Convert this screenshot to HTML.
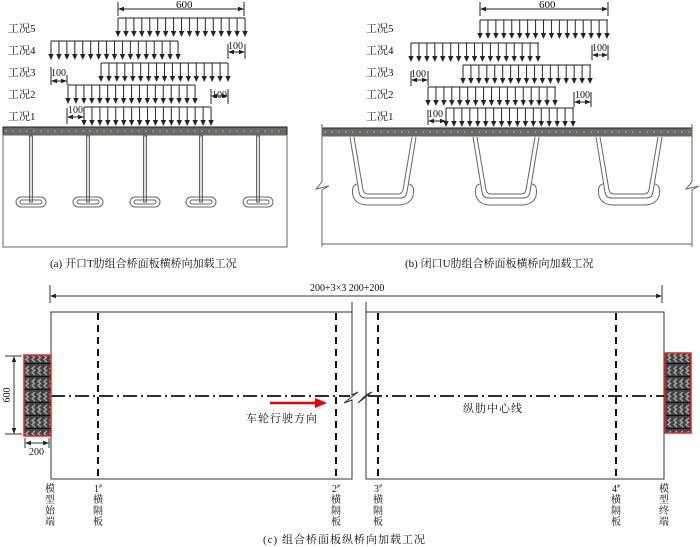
<!DOCTYPE html>
<html><head><meta charset="utf-8"><style>
html,body{margin:0;padding:0;background:#fff;}
svg{display:block;}
text{font-family:"Liberation Serif","Noto Serif CJK SC",serif;fill:#111;}
</style></head><body>
<svg width="700" height="547" viewBox="0 0 700 547" xmlns="http://www.w3.org/2000/svg">
<defs>
<pattern id="arr" patternUnits="userSpaceOnUse" x="-4" y="0" width="7.94" height="19">
<line x1="4" y1="0" x2="4" y2="14" stroke="#222" stroke-width="1"/>
<polygon points="1.3,13 6.7,13 4,19" fill="#222"/>
</pattern>
<pattern id="tire" patternUnits="userSpaceOnUse" x="0" y="0" width="6" height="13">
<rect width="6" height="13" fill="#444"/>
<path d="M5 2 L2 4.5 L5 7 M5 6 L2 8.5 L5 11" stroke="#aaa" stroke-width="1.3" fill="none"/>
<line x1="0" y1="12.5" x2="6" y2="12.5" stroke="#111" stroke-width="1.2"/>
</pattern>
<marker id="ah" markerWidth="6" markerHeight="6" refX="5" refY="3" orient="auto-start-reverse" markerUnits="userSpaceOnUse"><polygon points="0,0.8 6,3 0,5.2" fill="#222"/></marker>
<marker id="rh" markerWidth="12" markerHeight="10" refX="10" refY="5" orient="auto" markerUnits="userSpaceOnUse"><polygon points="0,0 12,5 0,10" fill="#e00"/></marker>
</defs>

<!-- ===== Panel (a) ===== -->
<g font-size="11">
<text x="8" y="32">工况5</text>
<text x="8" y="54">工况4</text>
<text x="8" y="76">工况3</text>
<text x="8" y="98">工况2</text>
<text x="8" y="120">工况1</text>
</g>
<g stroke="#222" stroke-width="1">
<line x1="118" y1="2" x2="118" y2="16"/><line x1="244" y1="2" x2="244" y2="16"/>
<line x1="119" y1="9" x2="243" y2="9" marker-start="url(#ah)" marker-end="url(#ah)"/>
</g>
<text x="176" y="8" font-size="11">600</text>
<g transform="translate(118,18)"><line x1="0" y1="0" x2="127" y2="0" stroke="#222"/><rect x="-4" y="0" width="135" height="19" fill="url(#arr)"/></g>
<g transform="translate(51,41)"><line x1="0" y1="0" x2="127" y2="0" stroke="#222"/><rect x="-4" y="0" width="135" height="19" fill="url(#arr)"/></g>
<g transform="translate(101,63)"><line x1="0" y1="0" x2="127" y2="0" stroke="#222"/><rect x="-4" y="0" width="135" height="19" fill="url(#arr)"/></g>
<g transform="translate(68,85)"><line x1="0" y1="0" x2="127" y2="0" stroke="#222"/><rect x="-4" y="0" width="135" height="19" fill="url(#arr)"/></g>
<g transform="translate(84,107)"><line x1="0" y1="0" x2="127" y2="0" stroke="#222"/><rect x="-4" y="0" width="135" height="19" fill="url(#arr)"/></g>
<g stroke="#222" stroke-width="1">
<line x1="228" y1="44" x2="228" y2="59"/><line x1="245" y1="44" x2="245" y2="59"/><line x1="229" y1="52" x2="244" y2="52" marker-start="url(#ah)" marker-end="url(#ah)"/>
<line x1="51" y1="67" x2="51" y2="85"/><line x1="67" y1="75" x2="67" y2="85"/><line x1="52" y1="81" x2="66" y2="81" marker-start="url(#ah)" marker-end="url(#ah)"/>
<line x1="211" y1="89" x2="211" y2="104"/><line x1="228" y1="89" x2="228" y2="104"/><line x1="212" y1="96" x2="227" y2="96" marker-start="url(#ah)" marker-end="url(#ah)"/>
<line x1="67" y1="108" x2="67" y2="124"/><line x1="84" y1="108" x2="84" y2="124"/><line x1="68" y1="117" x2="83" y2="117" marker-start="url(#ah)" marker-end="url(#ah)"/>
</g>
<g font-size="10"><text x="228" y="49">100</text><text x="51" y="76">100</text><text x="212" y="98">100</text><text x="68" y="113">100</text></g>
<rect x="3" y="127" width="284" height="8" fill="#6a6a6a" stroke="#222" stroke-width="1"/>
<line x1="5" y1="131" x2="285" y2="131" stroke="#7cc84a" stroke-width="1.2" stroke-dasharray="2 5"/>
<rect x="3" y="135" width="284" height="112" fill="none" stroke="#666" stroke-width="1"/>
<g stroke="#666" fill="none" stroke-width="1">
<g transform="translate(31,0)"><rect x="-1.5" y="136" width="3" height="66" fill="#ddd"/><rect x="-15" y="197" width="30" height="10" rx="5"/><rect x="-11" y="200" width="22" height="4" rx="2"/></g>
<g transform="translate(88,0)"><rect x="-1.5" y="136" width="3" height="66" fill="#ddd"/><rect x="-15" y="197" width="30" height="10" rx="5"/><rect x="-11" y="200" width="22" height="4" rx="2"/></g>
<g transform="translate(145,0)"><rect x="-1.5" y="136" width="3" height="66" fill="#ddd"/><rect x="-15" y="197" width="30" height="10" rx="5"/><rect x="-11" y="200" width="22" height="4" rx="2"/></g>
<g transform="translate(201,0)"><rect x="-1.5" y="136" width="3" height="66" fill="#ddd"/><rect x="-15" y="197" width="30" height="10" rx="5"/><rect x="-11" y="200" width="22" height="4" rx="2"/></g>
<g transform="translate(258,0)"><rect x="-1.5" y="136" width="3" height="66" fill="#ddd"/><rect x="-15" y="197" width="30" height="10" rx="5"/><rect x="-11" y="200" width="22" height="4" rx="2"/></g>
</g>
<text x="50" y="267" font-size="11">(a)  开口T肋组合桥面板横桥向加载工况</text>

<!-- ===== Panel (b) ===== -->
<g font-size="11">
<text x="366" y="32">工况5</text>
<text x="366" y="54">工况4</text>
<text x="366" y="76">工况3</text>
<text x="366" y="98">工况2</text>
<text x="366" y="120">工况1</text>
</g>
<g stroke="#222" stroke-width="1">
<line x1="480" y1="2" x2="480" y2="16"/><line x1="608" y1="2" x2="608" y2="16"/>
<line x1="481" y1="9" x2="607" y2="9" marker-start="url(#ah)" marker-end="url(#ah)"/>
</g>
<text x="539" y="8" font-size="11">600</text>
<g transform="translate(480,20)"><line x1="0" y1="0" x2="128" y2="0" stroke="#222"/><rect x="-4" y="0" width="136" height="19" fill="url(#arr)"/></g>
<g transform="translate(411,43)"><line x1="0" y1="0" x2="128" y2="0" stroke="#222"/><rect x="-4" y="0" width="136" height="19" fill="url(#arr)"/></g>
<g transform="translate(463,65)"><line x1="0" y1="0" x2="128" y2="0" stroke="#222"/><rect x="-4" y="0" width="136" height="19" fill="url(#arr)"/></g>
<g transform="translate(428,87)"><line x1="0" y1="0" x2="128" y2="0" stroke="#222"/><rect x="-4" y="0" width="136" height="19" fill="url(#arr)"/></g>
<g transform="translate(446,108)"><line x1="0" y1="0" x2="128" y2="0" stroke="#222"/><rect x="-4" y="0" width="136" height="19" fill="url(#arr)"/></g>
<g stroke="#222" stroke-width="1">
<line x1="592" y1="45" x2="592" y2="60"/><line x1="608" y1="45" x2="608" y2="60"/><line x1="593" y1="55" x2="607" y2="55" marker-start="url(#ah)" marker-end="url(#ah)"/>
<line x1="411" y1="71" x2="411" y2="86"/><line x1="428" y1="71" x2="428" y2="86"/><line x1="412" y1="80" x2="427" y2="80" marker-start="url(#ah)" marker-end="url(#ah)"/>
<line x1="574" y1="92" x2="574" y2="107"/><line x1="591" y1="92" x2="591" y2="107"/><line x1="575" y1="102" x2="590" y2="102" marker-start="url(#ah)" marker-end="url(#ah)"/>
<line x1="428" y1="110" x2="428" y2="125"/><line x1="446" y1="110" x2="446" y2="125"/><line x1="429" y1="121" x2="445" y2="121" marker-start="url(#ah)" marker-end="url(#ah)"/>
</g>
<g font-size="10"><text x="592" y="51">100</text><text x="411" y="77">100</text><text x="575" y="98">100</text><text x="428" y="117">100</text></g>
<rect x="322" y="128" width="370" height="8" fill="#6a6a6a" stroke="#222" stroke-width="1"/>
<line x1="324" y1="132" x2="690" y2="132" stroke="#7cc84a" stroke-width="1.2" stroke-dasharray="2 5"/>
<line x1="322" y1="136" x2="692" y2="136" stroke="#666"/>
<g stroke="#666" fill="none" stroke-width="1">
<path d="M322 124 V182 L316 189 L329 186 L322 190 V247"/>
<path d="M692 124 V182 L686 189 L699 186 L692 190 V247"/>
<line x1="322" y1="244" x2="692" y2="244"/>
<g id="u1">
<path d="M350 137 L359 192 Q360 198 366 198 H400 Q406 198 407 192 L416 137"/>
<path d="M354 137 L363 190 Q364 194 368 194 H398 Q402 194 403 190 L412 137"/>
<path d="M357 184 Q351 185 353 196 Q356 205 368 205 H398 Q410 205 413 196 Q415 185 409 184"/>
</g>
<use href="#u1" transform="translate(123,0)"/>
<use href="#u1" transform="translate(246,0)"/>
</g>
<text x="405" y="267" font-size="11">(b)  闭口U肋组合桥面板横桥向加载工况</text>

<!-- ===== Panel (c) ===== -->
<g stroke="#333" stroke-width="1" fill="none">
<line x1="50" y1="285" x2="50" y2="303"/><line x1="662" y1="285" x2="662" y2="303"/>
<line x1="51" y1="296" x2="661" y2="296" marker-start="url(#ah)" marker-end="url(#ah)"/>
<path d="M352 302 V312 H51 V479 H352 V400 L344 403 L358 392 L352 395 V302" fill="#fff"/>
<path d="M366 302 V395 L358 403 L372 392 L366 395 V312 H664 V479 H366 V395"/>
</g>
<text x="310" y="291" font-size="10" font-family="Liberation Sans, sans-serif">200+3×3 200+200</text>
<g stroke="#111" stroke-width="2" stroke-dasharray="7 5">
<line x1="98" y1="313" x2="98" y2="478"/>
<line x1="336" y1="313" x2="336" y2="478"/>
<line x1="378" y1="313" x2="378" y2="478"/>
<line x1="616" y1="313" x2="616" y2="478"/>
</g>
<g stroke="#111" stroke-width="1.8" stroke-dasharray="14 4 2 4">
<line x1="51" y1="396" x2="350" y2="396"/>
<line x1="368" y1="396" x2="664" y2="396"/>
</g>
<line x1="270" y1="403" x2="325" y2="403" stroke="#e00" stroke-width="2.5" marker-end="url(#rh)"/>
<text x="246" y="422" font-size="11" font-family="Liberation Sans, Noto Sans CJK SC, sans-serif" letter-spacing="1">车轮行驶方向</text>
<text x="463" y="412" font-size="11" font-family="Liberation Sans, Noto Sans CJK SC, sans-serif" letter-spacing="1">纵肋中心线</text>
<rect x="24" y="355" width="27" height="81" fill="url(#tire)" stroke="#e22" stroke-width="1.5"/>
<rect x="665" y="353" width="26" height="80" fill="url(#tire)" stroke="#e22" stroke-width="1.5"/>
<g stroke="#333" stroke-width="1">
<line x1="5" y1="356" x2="22" y2="356"/><line x1="5" y1="434" x2="22" y2="434"/>
<line x1="14" y1="357" x2="14" y2="433" marker-start="url(#ah)" marker-end="url(#ah)"/>
<line x1="25" y1="438" x2="25" y2="448"/><line x1="49" y1="438" x2="49" y2="448"/>
<line x1="26" y1="443" x2="48" y2="443" marker-start="url(#ah)" marker-end="url(#ah)"/>
</g>
<text transform="translate(10,395) rotate(-90)" text-anchor="middle" font-size="10">600</text>
<text x="29" y="455" font-size="10">200</text>
<g font-size="10" text-anchor="middle">
<text x="50" y="492">模</text><text x="50" y="503">型</text><text x="50" y="514">始</text><text x="50" y="525">端</text>
<text x="98" y="492">1<tspan font-size="6" dy="-4">#</tspan></text><text x="98" y="503">横</text><text x="98" y="514">隔</text><text x="98" y="525">板</text>
<text x="336" y="492">2<tspan font-size="6" dy="-4">#</tspan></text><text x="336" y="503">横</text><text x="336" y="514">隔</text><text x="336" y="525">板</text>
<text x="378" y="492">3<tspan font-size="6" dy="-4">#</tspan></text><text x="378" y="503">横</text><text x="378" y="514">隔</text><text x="378" y="525">板</text>
<text x="616" y="492">4<tspan font-size="6" dy="-4">#</tspan></text><text x="616" y="503">横</text><text x="616" y="514">隔</text><text x="616" y="525">板</text>
<text x="664" y="492">模</text><text x="664" y="503">型</text><text x="664" y="514">终</text><text x="664" y="525">端</text>
</g>
<text x="263" y="543" font-size="11" letter-spacing="1">(c)  组合桥面板纵桥向加载工况</text>
</svg>
</body></html>
